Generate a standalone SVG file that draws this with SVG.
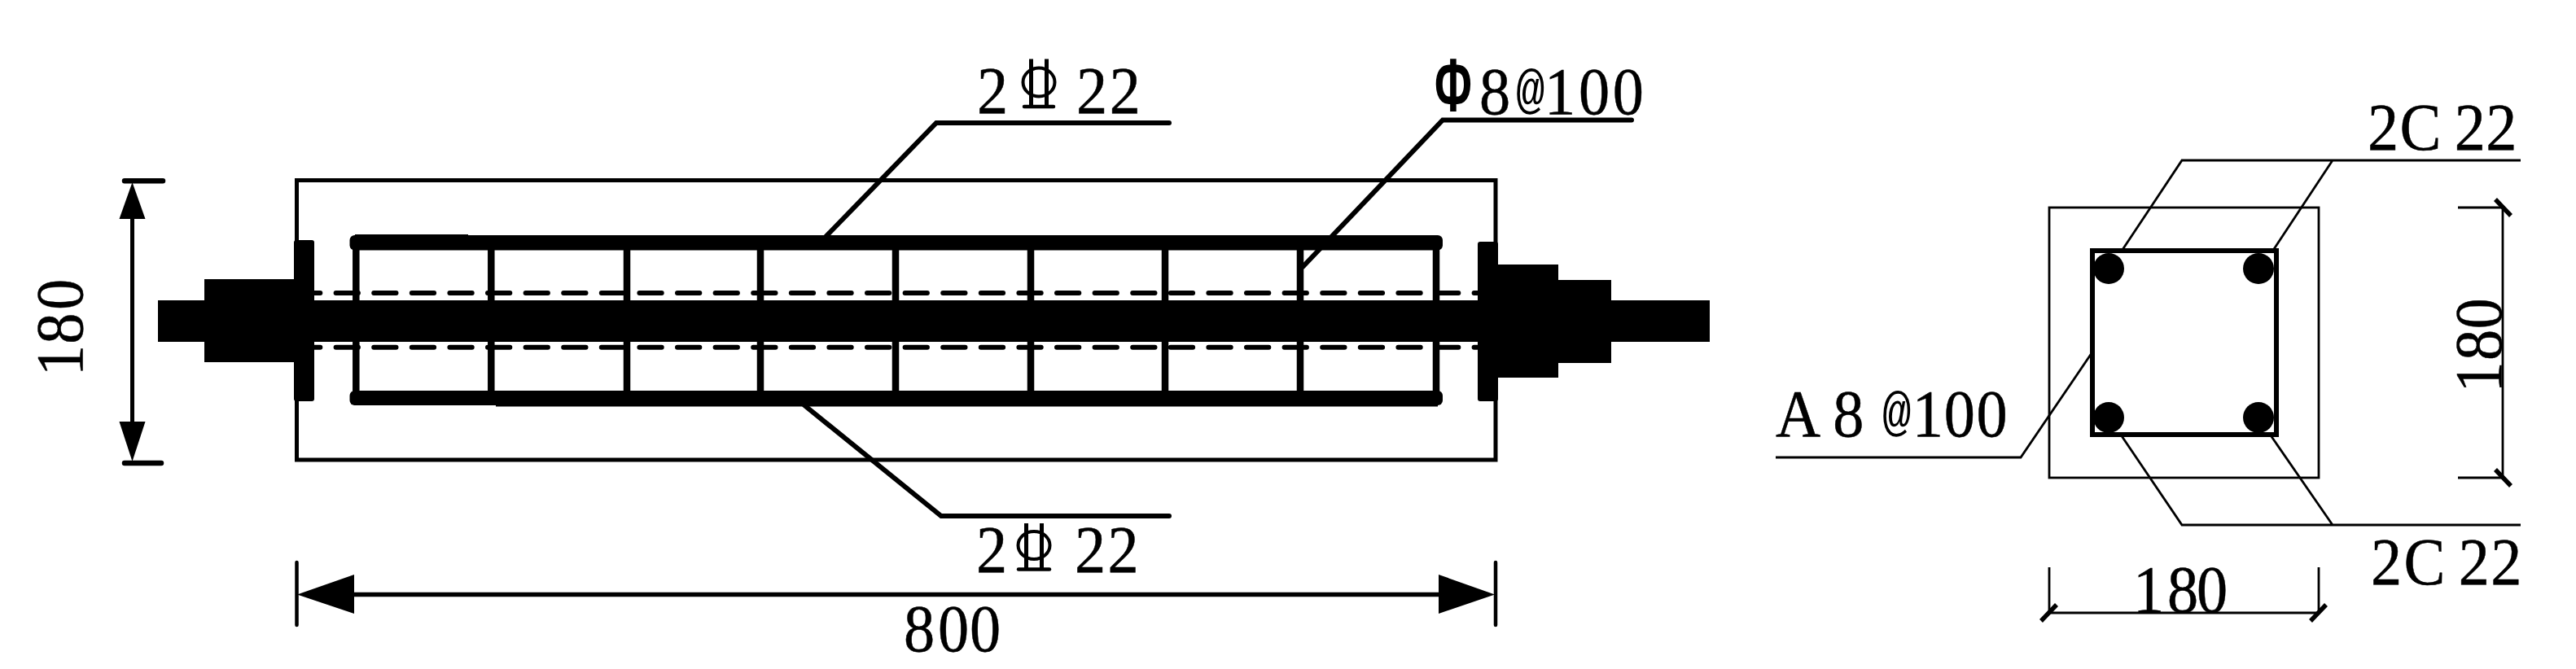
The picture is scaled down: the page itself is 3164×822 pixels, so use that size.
<svg xmlns="http://www.w3.org/2000/svg" width="3164" height="822" viewBox="0 0 3164 822">
<style>
text{font-family:"Liberation Serif","Times New Roman",serif;font-size:83px;fill:#000;stroke:#000;stroke-width:.5}
.at{font-family:"Liberation Mono","Courier New",monospace;font-size:64px;stroke-width:0}
.phi{font-family:"Liberation Sans",Arial,sans-serif;font-weight:700;font-size:93px;stroke-width:0}
.f{fill:#000}
.o{fill:none;stroke:#000;stroke-width:5}
.l{fill:none;stroke:#000;stroke-width:6;stroke-linecap:round;stroke-linejoin:miter}
.p{fill:none;stroke:#000;stroke-width:6.500;stroke-linecap:round}
.t{fill:none;stroke:#000;stroke-width:2.800}
.b{fill:none;stroke:#000;stroke-width:6}
.k{fill:none;stroke:#000;stroke-width:5.500}
.s{fill:none;stroke:#000;stroke-width:8.500}
.d{fill:none;stroke:#000;stroke-width:6;stroke-linecap:round;stroke-dasharray:27.300 19.300}
.h{fill:none;stroke:#000;stroke-width:4}
.x{fill:none;stroke:#000;stroke-width:5.500}
.v{fill:none;stroke:#000;stroke-width:5}
.r{fill:none;stroke:#000;stroke-width:4.500;stroke-linecap:round}
</style>
<g id="beam">
<rect class="o" x="364.500" y="221.500" width="1472.500" height="343.500"/>
<g id="stirrups">
<path class="s" d="M437.300 298V490M603.300 298V490M770 298V490M934 298V490M1100 298V490M1266 298V490M1431 298V490M1597 298V490M1764 298V490"/>
</g>
<g id="dashed-bars">
<path class="d" d="M366 360H1815M366 426.700H1815"/>
</g>
<g id="main-bars">
<rect class="f" x="429.500" y="289" width="1342.500" height="18.500" rx="6"/>
<rect class="f" x="436" y="288" width="139" height="10"/>
<rect class="f" x="429.500" y="480" width="1342.500" height="18" rx="6"/>
<rect class="f" x="609" y="490" width="1157" height="9.500"/>
</g>
<g id="anchor-rod">
<rect class="f" x="194" y="369" width="1906" height="51"/>
<rect class="f" x="251" y="343" width="113" height="102"/>
<rect class="f" x="361" y="295" width="25" height="198" rx="3"/>
<rect class="f" x="1815" y="297" width="25" height="196" rx="3"/>
<rect class="f" x="1840" y="325" width="74" height="139"/>
<rect class="f" x="1914" y="344" width="65" height="102"/>
</g>
</g>
<g id="section">
<rect class="t" x="2517" y="255" width="331" height="332"/>
<rect class="b" x="2570" y="308" width="226" height="226"/>
<circle class="f" cx="2590" cy="330" r="19"/>
<circle class="f" cx="2774" cy="330" r="19"/>
<circle class="f" cx="2590" cy="513" r="19"/>
<circle class="f" cx="2774" cy="513" r="19"/>
</g>
<g id="connectors">
<path class="l" d="M1014 291L1150 151H1436"/>
<path class="l" d="M1600 328L1772 147.500H2004"/>
<path class="l" d="M988 498L1156 634H1436"/>
<path class="t" d="M2605.500 309L2680 197H3096M2791 309L2865 197"/>
<path class="t" d="M2605.500 535L2680 645H3096M2789 535L2865 645"/>
<path class="t" d="M2570 432.500L2482 562H2181"/>
</g>
<g id="dimensions">
<path class="p" d="M153 222.300H200M153 569H198"/>
<path class="v" d="M162.500 250V540"/>
<polygon class="f" points="162.500,224 178.500,269 146.500,269"/>
<polygon class="f" points="162.500,567 178.500,518 146.500,518"/>
<path class="k" d="M400 730.500H1800"/>
<path class="r" d="M364.500 691V768M1837 691V768"/>
<polygon class="f" points="365,730.500 435,706 435,754"/>
<polygon class="f" points="1836,730.500 1767,706 1767,754"/>
<path class="t" d="M3019 255H3074V587H3019M2517 697V753H2848V697"/>
<path class="x" d="M3065 245L3084 265M3065 577L3084 597M2507 763L2526 743M2838 763L2857 743"/>
</g>
<g id="labels">
<text transform="translate(101,462) rotate(-90) scale(.92,1)" x="0 42.700 88">180</text>
<text transform="translate(1110,800) scale(.92,1)" x="0 45.600 88">800</text>
<text transform="translate(1200,139) scale(.92,1)" x="0 50 132.600 177">2 22</text>
<g id="bar-symbol-top">
<ellipse class="h" cx="1276" cy="101" rx="19.500" ry="17.500"/>
<path class="v" d="M1266.500 72.500V131M1285.500 72.500V131"/>
<path class="r" d="M1258 131H1294"/>
</g>
<text transform="translate(1199,703) scale(.92,1)" x="0 50 131.500 175.500">2 22</text>
<g id="bar-symbol-bottom">
<ellipse class="h" cx="1270" cy="670" rx="19.500" ry="17"/>
<path class="v" d="M1260.500 643V700M1279.500 643V700"/>
<path class="r" d="M1251 699.500H1289"/>
</g>
<text class="phi" transform="translate(1762,137) scale(.6,1)">Φ</text>
<text transform="translate(1817,140) scale(.92,1)"><tspan x="0">8</tspan><tspan class="at" x="49" dy="-9">@</tspan><tspan x="87 132.600 178" dy="9">100</tspan></text>
<text transform="translate(2908,183.500) scale(.92,1)" x="0 43 95 116 158">2C 22</text>
<text transform="translate(2912,717.500) scale(.92,1)" x="0 44 95 117 160">2C 22</text>
<text transform="translate(2181,536) scale(.92,1)"><tspan x="0 60 76.400 110">A 8 </tspan><tspan class="at" x="142.400" dy="-9">@</tspan><tspan x="182.400 224.800 268" dy="9">100</tspan></text>
<text transform="translate(2620,751.500) scale(.92,1)" x="0 45.600 84.800">180</text>
<text transform="translate(3072,482.600) rotate(-90) scale(.92,1)" x="0 43 85">180</text>
</g>
</svg>
